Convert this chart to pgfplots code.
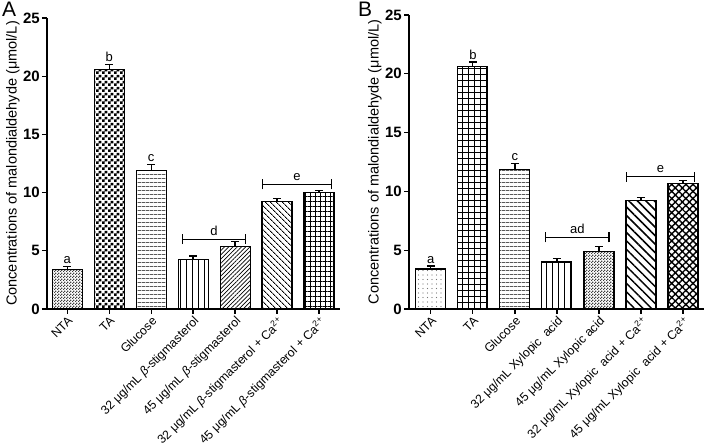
\documentclass[border=0pt]{standalone}
\usepackage{fontspec}
\setmainfont{Liberation Sans}
\usepackage{pgfplots}
\pgfplotsset{compat=1.18}
\usetikzlibrary{patterns,patterns.meta}

\pgfdeclarepatternformonly{chkbig}{\pgfpointorigin}{\pgfqpoint{6pt}{6pt}}{\pgfqpoint{6pt}{6pt}}{%
 \pgfpathrectangle{\pgfpointorigin}{\pgfqpoint{3pt}{3pt}}%
 \pgfpathrectangle{\pgfqpoint{3pt}{3pt}}{\pgfqpoint{3pt}{3pt}}%
 \pgfusepath{fill}}
\pgfdeclarepatternformonly{chksmall}{\pgfpointorigin}{\pgfqpoint{3pt}{3pt}}{\pgfqpoint{3pt}{3pt}}{%
 \pgfpathrectangle{\pgfpointorigin}{\pgfqpoint{1.5pt}{1.5pt}}%
 \pgfpathrectangle{\pgfqpoint{1.5pt}{1.5pt}}{\pgfqpoint{1.5pt}{1.5pt}}%
 \pgfusepath{fill}}

\pgfplotsset{
 mdaaxis/.style={
  scale only axis, anchor=south west,
  ymin=0, ymax=25, ytick={0,5,...,25},
  xtick={0,...,6},
  axis x line*=bottom, axis y line*=left,
  axis line style={line width=1.6pt, -},
  tick style={line width=1.2pt, black},
  tick align=outside, major tick length=5pt,
  /pgf/number format/assume math mode=true,
  yticklabel style={font=\fontsize{15}{15}\selectfont\bfseries, inner sep=2pt},
  xticklabel style={rotate=45, anchor=north east, font=\fontsize{12.3}{12.3}\selectfont, inner sep=1pt},
  ylabel={Concentrations of malondialdehyde (μmol/L)},
  ylabel style={font=\fontsize{14.5}{14.5}\selectfont, yshift=-2pt},
  ybar, bar width=30pt, bar shift=0pt, clip=false,
 },
 barstyle/.style={draw=black, line width=1.1pt,
  error bars/y dir=plus, error bars/y explicit,
  error bars/error bar style={line width=1.2pt, black},
  error bars/error mark options={rotate=90, mark size=4pt, line width=1.2pt, black}},
}
\newcommand{\lab}[2]{\node[anchor=base, yshift=3pt, font=\fontsize{13}{13}\selectfont] at (axis cs:#1) {#2};}
\newcommand{\brk}[4]{%
 \draw[line width=1.2pt] (axis cs:#1,#3) -- (axis cs:#2,#3);
 \draw[line width=1.2pt] ([yshift=-5pt]axis cs:#1,#3) -- ([yshift=5pt]axis cs:#1,#3);
 \draw[line width=1.2pt] ([yshift=-5pt]axis cs:#2,#3) -- ([yshift=5pt]axis cs:#2,#3);
 \node[anchor=base, yshift=4pt, font=\fontsize{13}{13}\selectfont] at (axis cs:{(#1+#2)/2},#3) {#4};}

\begin{document}
\begin{tikzpicture}
\useasboundingbox (0,0) rectangle (708pt,446pt);
\node[anchor=north west, font=\fontsize{21}{21}\selectfont, inner sep=0pt] at (2pt,444pt) {A};
\node[anchor=north west, font=\fontsize{21}{21}\selectfont, inner sep=0pt] at (358pt,444pt) {B};

\begin{axis}[mdaaxis, at={(47pt,137pt)}, width=293pt, height=291pt,
  xmin=-0.48, xmax=6.5,
  xticklabels={NTA, TA, Glucose, {32 μg/mL \textit{β}-stigmasterol}, {45 μg/mL \textit{β}-stigmasterol}, {32 μg/mL \textit{β}-stigmasterol + Ca\textsuperscript{2+}}, {45 μg/mL \textit{β}-stigmasterol + Ca\textsuperscript{2+}}}]
\addplot[barstyle, pattern=chksmall, pattern color=black!75] coordinates {(0,3.4) +- (0,0.25)};
\addplot[barstyle, pattern=chkbig] coordinates {(1,20.6) +- (0,0.4)};
\addplot[barstyle, pattern={Lines[angle=0, distance=4pt, line width=0.8pt]}] coordinates {(2,11.9) +- (0,0.5)};
\addplot[barstyle, pattern={Lines[angle=90, distance=6pt, line width=0.8pt]}] coordinates {(3,4.25) +- (0,0.3)};
\addplot[barstyle, pattern={Lines[angle=45, distance=3pt, line width=0.7pt]}] coordinates {(4,5.4) +- (0,0.4)};
\addplot[barstyle, pattern={Lines[angle=-45, distance=4pt, line width=0.9pt]}] coordinates {(5,9.2) +- (0,0.3)};
\addplot[barstyle, pattern={Hatch[angle=0, distance=5pt, line width=0.8pt]}] coordinates {(6,10.0) +- (0,0.2)};
\lab{0,3.65}{a}
\lab{1,21.0}{b}
\lab{2,12.4}{c}
\brk{2.75}{4.25}{6.0}{d}
\brk{4.65}{6.3}{10.7}{e}
\end{axis}

\begin{axis}[mdaaxis, at={(409pt,137pt)}, width=295pt, height=294pt,
  xmin=-0.52, xmax=6.5,
  xticklabels={NTA, TA, Glucose, {32 μg/mL Xylopic\ \ acid}, {45 μg/mL Xylopic acid}, {32 μg/mL Xylopic\ \ acid + Ca\textsuperscript{2+}}, {45 μg/mL Xylopic\ \ acid + Ca\textsuperscript{2+}}}]
\addplot[barstyle, pattern={Dots[distance=4.5pt, radius=0.6pt]}, pattern color=black!55] coordinates {(0,3.4) +- (0,0.25)};
\addplot[barstyle, pattern={Hatch[angle=0, distance=6pt, line width=0.8pt]}] coordinates {(1,20.6) +- (0,0.4)};
\addplot[barstyle, pattern={Lines[angle=0, distance=4pt, line width=0.8pt]}] coordinates {(2,11.9) +- (0,0.5)};
\addplot[barstyle, pattern={Lines[angle=90, distance=6pt, line width=0.8pt]}] coordinates {(3,4.0) +- (0,0.3)};
\addplot[barstyle, pattern=chksmall, pattern color=black!75] coordinates {(4,4.9) +- (0,0.4)};
\addplot[barstyle, pattern={Lines[angle=-45, distance=6pt, line width=1.5pt]}] coordinates {(5,9.2) +- (0,0.3)};
\addplot[barstyle, pattern={Hatch[angle=45, distance=5pt, line width=1.4pt]}] coordinates {(6,10.7) +- (0,0.2)};
\lab{0,3.65}{a}
\lab{1,21.0}{b}
\lab{2,12.4}{c}
\brk{2.73}{4.24}{6.1}{ad}
\brk{4.65}{6.28}{11.25}{e}
\end{axis}
\end{tikzpicture}
\end{document}
